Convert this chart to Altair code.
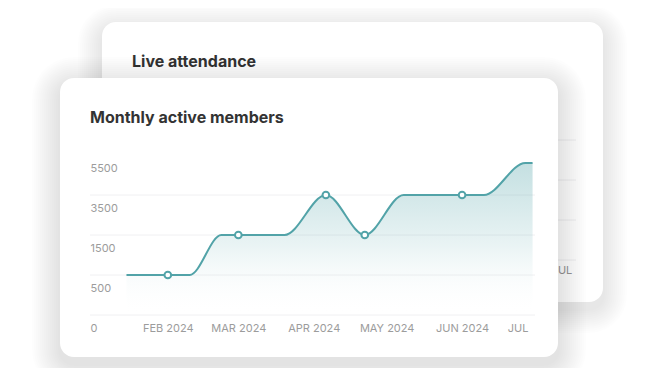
import altair as alt
import pandas as pd

# ---- data ----
dates = ["2024-01-15", "2024-02-01", "2024-02-10", "2024-02-23", "2024-03-01",
         "2024-03-20", "2024-04-06", "2024-04-22", "2024-05-08", "2024-06-01",
         "2024-06-10", "2024-06-27", "2024-06-30"]
members = [500, 500, 500, 1500, 1500, 1500, 3500, 1500, 3500, 3500, 3500, 5100, 5100]
marked = [False, True, False, False, True, False, True, True, False, True, False, False, False]
y_ticks = [0, 500, 1500, 3500, 5500]
grid_values = [0, 500, 1500, 3500]
month_ticks = [(2024, 2), (2024, 3), (2024, 4), (2024, 5), (2024, 6), (2024, 7)]
front_title = "Monthly active members"
back_title = "Live attendance"

TEAL = "#52a3a8"
LABEL = "#9c9c9c"
FONT = "Inter"
W, H = 445, 160

df = pd.DataFrame({"date": dates, "members": members, "marked": marked})
grid_df = pd.DataFrame({"members": grid_values})
one = pd.DataFrame({"k": [0]})

xscale = alt.Scale(type="utc", domain=[alt.DateTime(year=2023, month=12, date=31, utc=True),
                                       alt.DateTime(year=2024, month=7, date=1, utc=True)])
yscale = alt.Scale(domain=y_ticks, range=[H, 120, 80, 40, 0], nice=False)

xaxis = alt.Axis(values=[alt.DateTime(year=y, month=m, date=1, utc=True) for y, m in month_ticks],
                 labelExpr="utcmonth(datum.value) == 6 ? 'JUL' : upper(utcFormat(datum.value, '%b %Y'))",
                 ticks=False, domain=False, grid=False, labelPadding=7, labelFlush=True,
                 labelFlushOffset=-7, labelColor=LABEL, labelFontSize=11, labelFont=FONT,
                 title=None, zindex=1)
yaxis = alt.Axis(values=y_ticks, format="d", grid=False, ticks=False, tickSize=0, domain=False,
                 labelAlign="left", labelPadding=0, labelOffset=13, labelColor=LABEL,
                 labelFontSize=11, labelFont=FONT, title=None, zindex=1)


def box(x0, y0, x1, y1, **kw):
    return alt.Chart(one).mark_rect(**kw).encode(
        x=alt.value(x0), x2=alt.value(x1), y=alt.value(y0), y2=alt.value(y1))


def shadow(x0, y0, x1, y1, steps=12, spread=2, dy=7, op=0.007, r=14):
    return [box(x0 - spread * i, y0 - spread * i + dy, x1 + spread * i, y1 + spread * i + dy,
                color="black", opacity=op, cornerRadius=r + spread * i)
            for i in range(1, steps + 1)]


def label(x, y, s, **kw):
    return alt.Chart(one).mark_text(align="left", baseline="middle", **kw).encode(
        x=alt.value(x), y=alt.value(y), text=alt.value(s))


# card geometry relative to the plot origin
BX0, BY0, BX1, BY1 = 12, -133, 513, 147
FX0, FY0, FX1, FY1 = -30, -77, 468, 202

layers = []
layers += shadow(BX0, BY0, BX1, BY1)
layers.append(box(BX0, BY0, BX1, BY1, color="white", cornerRadius=14))
for gy in [-15, 25, 65, 105]:
    layers.append(alt.Chart(one).mark_rule(color="#eeeef0", strokeWidth=1).encode(
        x=alt.value(400), x2=alt.value(486), y=alt.value(gy)))
layers.append(alt.Chart(one).mark_text(align="center", baseline="middle", fontSize=11,
                                      font=FONT, color=LABEL).encode(
    x=alt.value(472), y=alt.value(116), text=alt.value("JUL")))
layers.append(label(42, -93, back_title, fontSize=16, fontWeight="bold", font=FONT, color="#333333"))
layers += shadow(FX0, FY0, FX1, FY1, steps=14)
layers.append(box(FX0, FY0, FX1, FY1, color="white", cornerRadius=14))
layers.append(label(0, -37, front_title, fontSize=16, fontWeight="bold", font=FONT, color="#333333"))

grid = alt.Chart(grid_df).mark_rule(color="#f0f0f2", strokeWidth=1).encode(
    y=alt.Y("members:Q", scale=yscale, axis=yaxis), x=alt.value(0), x2=alt.value(W))

base = alt.Chart(df).encode(
    x=alt.X("date:T", scale=xscale, axis=xaxis),
    y=alt.Y("members:Q", scale=yscale, axis=yaxis))

area = base.mark_area(interpolate="monotone", color=alt.Gradient(
    gradient="linear", x1=0, y1=0, x2=0, y2=1,
    stops=[alt.GradientStop(color="rgba(82,163,168,0.34)", offset=0),
           alt.GradientStop(color="rgba(82,163,168,0.12)", offset=0.55),
           alt.GradientStop(color="rgba(255,255,255,0)", offset=1)]))
line = base.mark_line(interpolate="monotone", color=TEAL, strokeWidth=2)
pts = base.transform_filter("datum.marked").mark_point(
    shape="circle", filled=True, fill="white", stroke=TEAL, strokeWidth=2, size=45, opacity=1)

layers += [grid, area, line, pts]

chart = alt.layer(*layers).properties(
    width=W, height=H,
    autosize=alt.AutoSizeParams(type="none"),
    padding={"left": 82, "top": 147, "right": 113, "bottom": 53},
    background="white",
).configure_view(stroke=None)

chart.save("out.html", embed_options={"renderer": "svg", "actions": False})
